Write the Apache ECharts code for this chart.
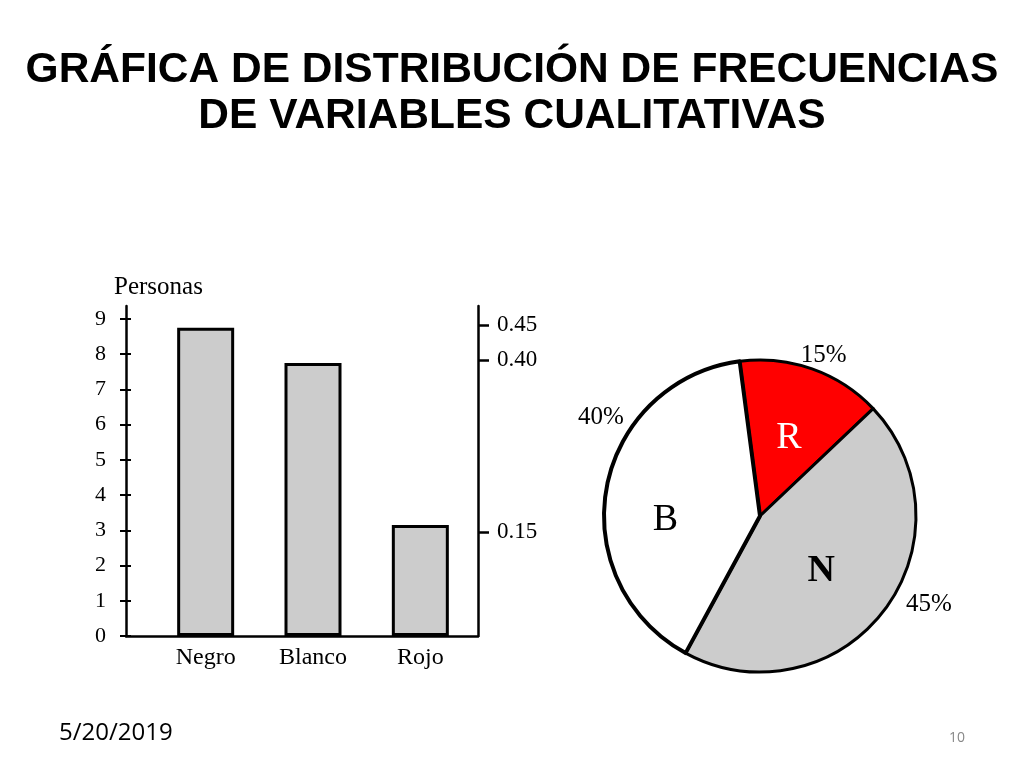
<!DOCTYPE html>
<html>
<head>
<meta charset="utf-8">
<script src="https://cdn.jsdelivr.net/npm/echarts@6/dist/echarts.min.js"></script>
<style>
html,body{margin:0;padding:0;background:#fff;}
#main{width:1024px;height:768px;}
</style>
</head>
<body>
<div id="main"></div>
<script>
// ---- data ----
const titleLines = ['GRÁFICA DE DISTRIBUCIÓN DE FRECUENCIAS', 'DE VARIABLES CUALITATIVAS'];
const categories = ['Negro', 'Blanco', 'Rojo'];
const personas = [8.75, 7.75, 3.15];
const leftTicks = [0, 1, 2, 3, 4, 5, 6, 7, 8, 9];
const rightTicks = [0.15, 0.40, 0.45];
const pieNames = ['R', 'N', 'B'];
const pieValues = [15, 45, 40];
const pieLabels = ['15%', '45%', '40%'];
const footerDate = '5/20/2019';
const pageNumber = '10';

// ---- chart ----
const serif = '"Liberation Serif", "DejaVu Serif", serif';
const pieColors = ['#ff0000', '#cccccc', '#ffffff'];
const pieInnerColors = ['#ffffff', '#000000', '#000000'];
const pieInnerWeights = ['normal', 'bold', 'normal'];
const pieOuterOffsets = [[-23, -6], [7, -11], [34, -69]];
const pieInnerOffsets = [[2, -2], [-3, 6], [-15, 19]];

const chart = echarts.init(document.getElementById('main'), null, {renderer: 'canvas'});

const leftMax = 9.37, rightMax = 0.478;
const gridTop = 306, gridBottom = 768 - 636;

const option = {
  backgroundColor: '#ffffff',
  animation: false,
  title: [
    {
      text: titleLines.join('\n'),
      left: 'center', top: 42,
      textStyle: {fontFamily: '"Liberation Sans", Arial, sans-serif', fontWeight: 'bold', fontSize: 42.5, lineHeight: 46, color: '#000'}
    },
    {
      text: footerDate, left: 54, top: 716,
      textStyle: {fontFamily: '"Open Sans", "Noto Sans", sans-serif', fontWeight: 'normal', fontSize: 24, color: '#000'}
    },
    {
      text: pageNumber, left: 944, top: 726,
      textStyle: {fontFamily: '"Open Sans", "Noto Sans", sans-serif', fontWeight: 'normal', fontSize: 14, color: '#888'}
    }
  ],
  grid: [
    {left: 126, width: 352, top: gridTop, bottom: gridBottom},
    {left: 152, width: 322, top: gridTop, bottom: gridBottom}
  ],
  xAxis: [
    {
      gridIndex: 0, type: 'value', min: 0, max: 1,
      axisLine: {show: true, onZero: false, lineStyle: {color: '#000', width: 2.5}},
      axisTick: {show: false}, axisLabel: {show: false}, splitLine: {show: false}
    },
    {
      gridIndex: 1, type: 'category', data: categories,
      axisLine: {show: false}, axisTick: {show: false}, splitLine: {show: false},
      axisLabel: {fontFamily: serif, fontSize: 24, color: '#000', margin: 10}
    }
  ],
  yAxis: [
    {
      gridIndex: 0, type: 'value', position: 'left', min: 0, max: leftMax,
      name: 'Personas', nameLocation: 'end', nameGap: 6,
      nameTextStyle: {fontFamily: serif, fontSize: 25, color: '#000', align: 'left', padding: [0, 0, 0, -12]},
      axisLine: {show: true, lineStyle: {color: '#000', width: 2.5}},
      axisTick: {show: true, inside: false, length: 6, customValues: leftTicks, lineStyle: {color: '#000', width: 2}},
      axisLabel: {show: true, customValues: leftTicks, fontFamily: serif, fontSize: 22, color: '#000', margin: 20},
      splitLine: {show: false}
    },
    {
      gridIndex: 0, type: 'value', position: 'left', min: 0, max: leftMax,
      axisLine: {show: false},
      axisTick: {show: true, inside: true, length: 5, customValues: leftTicks, lineStyle: {color: '#000', width: 2}},
      axisLabel: {show: false}, splitLine: {show: false}
    },
    {
      gridIndex: 0, type: 'value', position: 'right', min: 0, max: rightMax,
      axisLine: {show: true, lineStyle: {color: '#000', width: 2.5}},
      axisTick: {show: true, inside: false, length: 11, customValues: rightTicks, lineStyle: {color: '#000', width: 2.5}},
      axisLabel: {show: true, customValues: rightTicks, fontFamily: serif, fontSize: 23, color: '#000', margin: 19,
        formatter: v => v.toFixed(2)},
      splitLine: {show: false}
    },
    {
      gridIndex: 1, type: 'value', min: 0, max: leftMax, show: false
    }
  ],
  series: [
    {
      type: 'bar', xAxisIndex: 1, yAxisIndex: 3,
      data: personas, barWidth: 57,
      itemStyle: {color: '#cccccc', borderColor: '#000', borderWidth: 3}
    },
    {
      type: 'pie', center: [760, 516], radius: 156, startAngle: 97.5, clockwise: true,
      data: pieNames.map((n, i) => ({
        name: n, value: pieValues[i],
        itemStyle: {color: pieColors[i], borderWidth: i === 2 ? 4 : 3},
        label: {color: pieInnerColors[i], fontWeight: pieInnerWeights[i], offset: pieInnerOffsets[i]}
      })),
      itemStyle: {borderColor: '#000', borderWidth: 3},
      label: {show: true, position: 'inside', formatter: '{b}', fontFamily: serif, fontSize: 38},
      labelLine: {show: false},
      emphasis: {disabled: true}
    },
    {
      type: 'pie', center: [760, 516], radius: 156, startAngle: 97.5, clockwise: true,
      silent: true,
      data: pieNames.map((n, i) => ({
        name: pieLabels[i], value: pieValues[i],
        label: {offset: pieOuterOffsets[i]}
      })),
      itemStyle: {color: 'rgba(0,0,0,0)', borderWidth: 0},
      label: {show: true, position: 'outside', formatter: '{b}', fontFamily: serif, fontSize: 25, color: '#000'},
      labelLine: {show: false, length: 8, length2: 4},
      emphasis: {disabled: true}
    }
  ]
};
chart.setOption(option);
</script>
</body>
</html>
